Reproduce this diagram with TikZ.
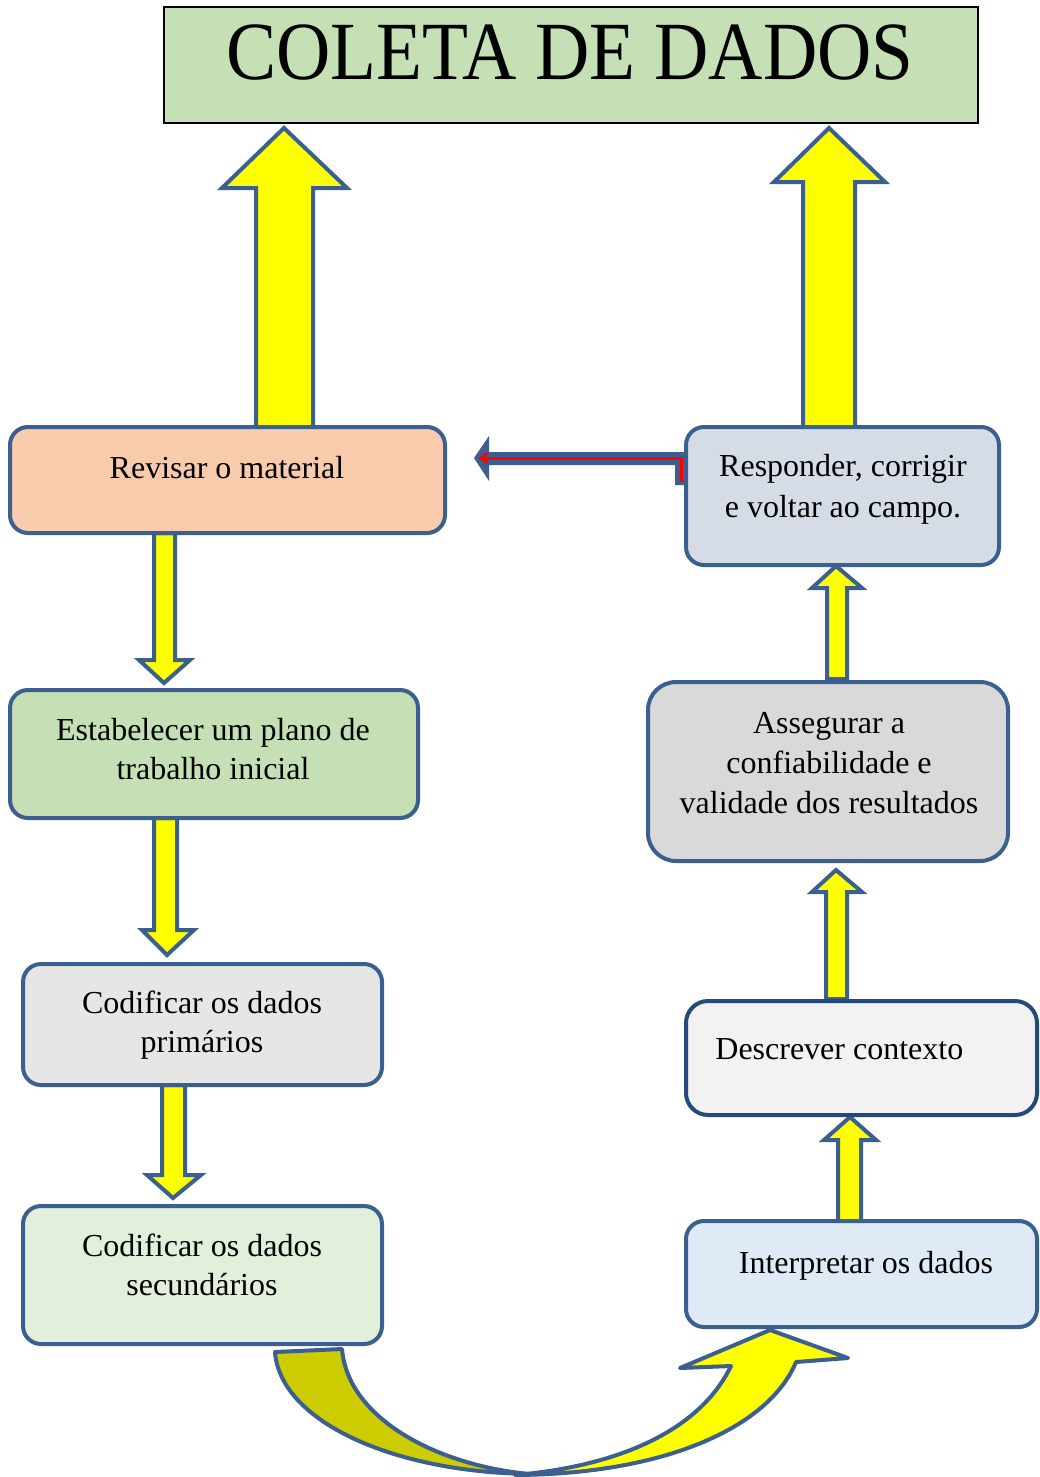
\documentclass[tikz,border=0pt]{standalone}
\usepackage{fontspec}
\setmainfont{Liberation Serif}
\usetikzlibrary{arrows.meta}
\definecolor{bordc}{HTML}{3B5F8E}
\definecolor{navyc}{HTML}{24497A}
\definecolor{titlec}{HTML}{C5E0B4}
\definecolor{revc}{HTML}{F8CBAD}
\definecolor{estc}{HTML}{C5E0B4}
\definecolor{cpc}{HTML}{E7E6E6}
\definecolor{csc}{HTML}{E2EFDA}
\definecolor{respc}{HTML}{D6DCE5}
\definecolor{assc}{HTML}{D9D9D9}
\definecolor{desc}{HTML}{F2F2F2}
\definecolor{intc}{HTML}{DEEBF7}
\definecolor{olivec}{HTML}{CCCC00}
\definecolor{yelc}{HTML}{FFFF00}
\definecolor{redc}{HTML}{FF0000}
\begin{document}
\begin{tikzpicture}[x=0.5pt,y=-0.5pt,
  box/.style={draw=bordc,line width=2pt,rounded corners=9pt,inner sep=0pt},
  blk/.style={draw=bordc,line width=2pt,fill=yelc,line join=miter},
  lbl/.style={anchor=base,inner sep=0pt,font=\fontsize{16}{20}\selectfont}]
\useasboundingbox (0,0) rectangle (1039,1477);

% big up arrows
\draw[blk] (256,427) -- (256,188) -- (222,188) -- (284,128) -- (347,188) -- (313,188) -- (313,427) -- cycle;
\draw[blk] (803,427) -- (803,182) -- (774,182) -- (829,128) -- (885,182) -- (855,182) -- (855,427) -- cycle;

% title
\node[draw=black,line width=1pt,fill=titlec,minimum width=407pt,minimum height=58pt,inner sep=0pt] (title) at (571,65) {};
\node[anchor=base,inner sep=0pt,font=\fontsize{37.6}{44}\selectfont] (titletxt) at (570,80) {\scalebox{1}[1.1]{COLETA DE DADOS}};

% small down arrows (left column)
\draw[blk] (154,533) -- (154,660) -- (139,660) -- (164,683) -- (190,660) -- (175,660) -- (175,533) -- cycle;
\draw[blk] (154,818) -- (154,930) -- (142,930) -- (167,955) -- (194,930) -- (177,930) -- (177,818) -- cycle;
\draw[blk] (162,1085) -- (162,1175) -- (147,1175) -- (173,1198) -- (201,1175) -- (185,1175) -- (185,1085) -- cycle;

% small up arrows (right column)
\draw[blk] (827,679) -- (827,588) -- (812,588) -- (836,566) -- (862,588) -- (847,588) -- (847,679) -- cycle;
\draw[blk] (826,999) -- (826,892) -- (812,892) -- (836,870) -- (862,892) -- (847,892) -- (847,999) -- cycle;
\draw[blk] (838,1221) -- (838,1140) -- (824,1140) -- (850,1117) -- (876,1140) -- (861,1140) -- (861,1221) -- cycle;

% boxes
\node[box,fill=revc,minimum width=217.5pt,minimum height=53pt] (rev) at (227.5,480) {};
\node[box,fill=estc,minimum width=204pt,minimum height=64pt] (est) at (214,754) {};
\node[box,fill=cpc,minimum width=179.5pt,minimum height=60.5pt] (cp) at (202.5,1024.5) {};
\node[box,fill=csc,minimum width=179.5pt,minimum height=69pt] (cs) at (202.5,1275) {};
\node[box,fill=respc,minimum width=156.5pt,minimum height=69pt] (resp) at (842.5,496) {};
\node[box,fill=assc,rounded corners=14pt,minimum width=180pt,minimum height=89.5pt] (ass) at (828,771.5) {};
\node[box,draw=navyc,fill=desc,rounded corners=11pt,minimum width=175.5pt,minimum height=57pt] (des) at (861.5,1058) {};
\node[box,fill=intc,minimum width=175.5pt,minimum height=53pt] (int) at (861.5,1274) {};

% texts
\node[lbl] (t1) at (227,478) {Revisar o material};
\node[lbl] (t2a) at (213,740) {Estabelecer um plano de};
\node[lbl] (t2b) at (213,779) {trabalho inicial};
\node[lbl] (t3a) at (202,1013) {Codificar os dados};
\node[lbl] (t3b) at (202,1052) {primários};
\node[lbl] (t4a) at (202,1256) {Codificar os dados};
\node[lbl] (t4b) at (202,1295) {secundários};
\node[lbl] (t5a) at (843,476) {Responder, corrigir};
\node[lbl] (t5b) at (843,517) {e voltar ao campo.};
\node[lbl] (t6a) at (829,733) {Assegurar a};
\node[lbl] (t6b) at (829,773) {confiabilidade e};
\node[lbl] (t6c) at (829,813) {validade dos resultados};
\node[lbl,anchor=base west] (t7) at (715,1059) {Descrever contexto};
\node[lbl] (t8) at (866,1273) {Interpretar os dados};

% bent return arrow (blue outline with red line)
\fill[bordc] (474,458) -- (489,436) -- (489,452) -- (687,452) -- (687,485) -- (675,485) -- (675,465) -- (489,465) -- (489,481) -- cycle;
\draw[redc,line width=1.5pt,-{Straight Barb[length=3pt,width=5pt]}] (681,482) -- (681,458) -- (479,458);

% bottom curved arrow
\draw[draw=bordc,line width=2pt,fill=olivec,line join=round]
  (275,1352) -- (342,1349) .. controls (348,1420) and (440,1466) .. (530,1474)
  .. controls (390,1472) and (280,1420) .. (275,1352) -- cycle;
\draw[draw=bordc,line width=2pt,fill=yelc,line join=round]
  (515,1475) .. controls (670,1474) and (770,1425) .. (796,1362)
  -- (848,1358) -- (770,1330) -- (680,1368) -- (731,1366)
  .. controls (700,1430) and (620,1466) .. (515,1475) -- cycle;
\end{tikzpicture}
\end{document}
